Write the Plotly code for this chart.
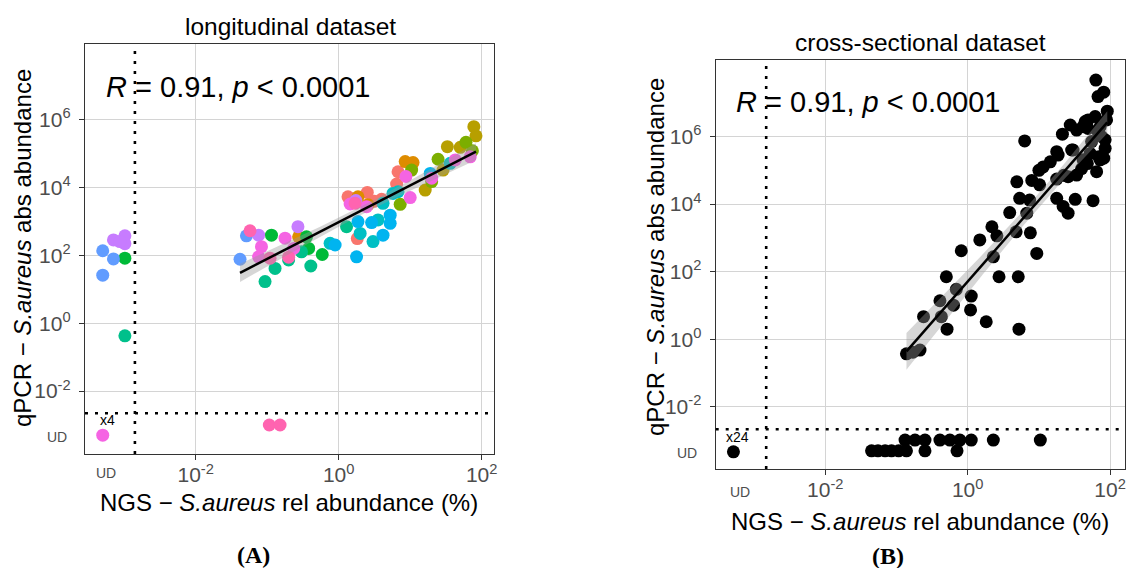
import numpy as np
import plotly.graph_objects as go

W, H = 1126, 568

# ---------------- data (log10 units) ----------------
UD = -3.30  # plotting position used for "undetected"

# Panel A: longitudinal dataset  (x = log10 NGS rel. abundance %, y = log10 qPCR abs abundance)
A_x = [0.13, 0.40, 0.60, 0.81, 0.83, 0.26, 0.50,
       0.27, 0.41, 0.93, 1.04, -0.56,
       1.21, 1.46, 1.52, 1.70, 1.89, 1.92,
       0.86, 1.02, 1.30, 1.39, 1.78, 1.87,
       -2.99, -0.94, -0.45, -0.42, -0.23,
       -2.99, -1.03, -0.89, -0.70, -0.52, -0.39, 0.11,
       -0.12, 0.30, 0.48, 0.55, 0.62, 0.76, 0.83, 1.56,
       -0.05, 0.25, 0.27, 0.46, 0.62, 0.72, 0.72, 1.28,
       -3.30, -3.15, -3.30, -1.38, -1.29,
       -3.15, -2.99, -2.99, -3.06, -1.12, -0.57, 0.24,
       -3.30, -1.08, -1.12, -0.75, -0.63, 0.16, 0.39, 0.94, 1.00, 1.30, 1.63, 1.84,
       -1.24, -0.96, -0.70, 0.23, -0.97, -0.82]
A_y = [3.73, 3.86, 3.66, 4.11, 4.47, 2.50, 3.60,
       3.73, 3.50, 4.77, 4.74, 2.55,
       3.93, 4.52, 5.21, 5.19, 5.80, 5.53,
       3.51, 4.52, 4.18, 4.84, 5.34, 5.09,
       1.92, 2.60, 2.55, 2.21, 2.03,
       -0.37, 1.23, 1.62, 1.87, 2.11, 1.69, 2.85,
       2.36, 2.65, 2.41, 3.05, 3.54, 3.83, 3.88, 4.72,
       2.31, 1.96, 3.00, 2.97, 2.60, 3.19, 2.95, 4.42,
       2.14, 1.90, 1.42, 1.89, 2.58,
       2.46, 2.58, 2.35, 2.41, 2.60, 2.85, 3.62,
       -3.30, 2.26, 1.96, 2.51, 2.21, 3.52, 3.44, 4.33, 3.71, 4.28, 4.82, 4.91,
       2.73, 1.92, 1.95, 3.54, -3.00, -3.00]
A_group = ([0] * 7 + [1] * 5 + [2] * 6 + [3] * 6 + [4] * 5 + [5] * 7 + [6] * 8 +
           [7] * 8 + [8] * 5 + [9] * 7 + [10] * 12 + [11] * 6)
A_colors = ["#F8766D", "#DE8C00", "#B79F00", "#7CAE00", "#00BA38", "#00C08B",
            "#00BFC4", "#00B4F0", "#619CFF", "#C77CFF", "#F564E3", "#FF64B0"]

# Panel B: cross-sectional dataset
B_x = [1.80, 1.83, 1.91, 1.96, 0.80, 1.44, 1.33, 1.69, 1.79, 1.62, 1.83, 1.93, 1.91, 1.81,
       1.48, 1.74, 1.72, 1.68, 1.60, 1.53, 1.25, 1.16, 1.06, 1.00, 0.69, 0.90, 1.01, 1.25,
       1.35, 0.73, 0.87, 1.25, 1.34, 1.41, 1.51, 1.76, 0.59, 0.83, 0.34, 0.41, 0.17, 0.68,
       0.88, -0.09, 0.36, 0.97, -0.30, 0.44, 0.71, -0.16, -0.39, -0.20, 0.05, 0.04, -0.62,
       -0.37, -0.29, 0.26, 0.72, -0.86, -0.77, -0.67, 1.93, 1.86, 1.95, 1.86, 1.69, 1.84,
       1.62, 1.27, 1.53, 1.65, 1.46, 1.41, 1.88,
       -0.88, -0.74, -0.60, -0.39, -0.25, -0.11, 0.05, 0.36, 1.02,
       -1.35, -1.26, -1.16, -1.07, -0.97, -0.86, -0.60, -0.15,
       -3.29]
B_y = [7.67, 7.18, 7.31, 6.75, 5.87, 6.34, 6.07, 6.49, 6.59, 6.29, 6.14, 5.65, 5.36, 4.96,
       5.60, 5.85, 5.50, 5.20, 5.05, 4.86, 5.55, 5.25, 5.10, 5.00, 4.66, 4.70, 4.57, 4.74,
       4.85, 4.17, 4.12, 4.17, 3.93, 3.73, 4.14, 4.10, 3.75, 3.73, 3.33, 3.06, 2.94, 3.18,
       3.15, 2.62, 2.44, 2.54, 1.85, 1.85, 1.85, 1.48, 1.14, 1.01, 1.28, 0.87, 0.67,
       0.67, 0.30, 0.52, 0.30, -0.43, -0.38, -0.32, 5.90, 6.29, 6.49, 5.31, 6.24, 5.40,
       5.31, 5.45, 6.19, 6.44, 5.60, 4.81, 6.00,
       -2.98, -2.98, -2.98, -2.98, -2.98, -2.98, -2.98, -2.98, -2.98,
       -3.30, -3.30, -3.30, -3.30, -3.30, -3.30, -3.30, -3.30,
       -3.33]

# detection limits (dotted lines), log10 units
A_lod_x, A_lod_y = -2.85, -2.655
B_lod_x, B_lod_y = -2.83, -2.66

stat_text = "<i>R</i> = 0.91, <i>p</i> &lt; 0.0001"
x_ticks = [-2, 0, 2]
y_ticks = [-2, 0, 2, 4, 6]
T_CRIT = 1.99


def px(v):
    return v / W


def py(v):
    return 1 - v / H


def lm_band(x, y, lodx, lody):
    x = np.asarray(x)
    y = np.asarray(y)
    m = (x > lodx) & (y > lody)
    xs, ys = x[m], y[m]
    b, a = np.polyfit(xs, ys, 1)
    n = len(xs)
    res = ys - (a + b * xs)
    s = np.sqrt(np.sum(res ** 2) / (n - 2))
    sxx = np.sum((xs - xs.mean()) ** 2)
    xx = np.linspace(xs.min(), xs.max(), 80)
    yy = a + b * xx
    se = s * np.sqrt(1 / n + (xx - xs.mean()) ** 2 / sxx)
    return xx, yy, yy - T_CRIT * se, yy + T_CRIT * se


fig = go.Figure()

# panel A points
A_x_arr, A_y_arr, A_g_arr = np.array(A_x), np.array(A_y), np.array(A_group)
for g, col in enumerate(A_colors):
    m = A_g_arr == g
    fig.add_trace(go.Scatter(x=A_x_arr[m], y=A_y_arr[m], mode="markers",
                             marker=dict(size=13, color=col), xaxis="x", yaxis="y",
                             showlegend=False, hoverinfo="skip"))

# panel B points
fig.add_trace(go.Scatter(x=B_x, y=B_y, mode="markers", marker=dict(size=13, color="black"),
                         xaxis="x2", yaxis="y2", showlegend=False, hoverinfo="skip"))

# regression lines with confidence bands
for (xd, yd, lx, ly, xa, ya) in [(A_x, A_y, A_lod_x, A_lod_y, "x", "y"),
                                 (B_x, B_y, B_lod_x, B_lod_y, "x2", "y2")]:
    xx, yy, lo, hi = lm_band(xd, yd, lx, ly)
    fig.add_trace(go.Scatter(x=np.concatenate([xx, xx[::-1]]), y=np.concatenate([hi, lo[::-1]]),
                             fill="toself", fillcolor="rgba(153,153,153,0.4)", line=dict(width=0),
                             mode="lines", xaxis=xa, yaxis=ya, showlegend=False, hoverinfo="skip"))
    fig.add_trace(go.Scatter(x=xx, y=yy, mode="lines", line=dict(color="black", width=2.5),
                             xaxis=xa, yaxis=ya, showlegend=False, hoverinfo="skip"))

tick_txt_x = ["10<sup>%d</sup>" % v for v in x_ticks]
tick_txt_y = ["10<sup>%d</sup>" % v for v in y_ticks]

common_axis = dict(showgrid=True, gridcolor="#d4d4d4", gridwidth=1.3, zeroline=False,
                   showline=True, mirror=True, linecolor="#333333", linewidth=1.3,
                   ticks="outside", ticklen=5, tickwidth=1.3, tickcolor="#333333",
                   automargin=False,
                   tickfont=dict(size=21, color="#4d4d4d", family="Liberation Sans, Arial"))

fig.update_layout(
    width=W, height=H, margin=dict(l=0, r=0, t=0, b=0, autoexpand=False),
    paper_bgcolor="white", plot_bgcolor="white",
    font=dict(family="Liberation Sans, Arial", color="black"),
    xaxis=dict(domain=[px(85), px(494)], range=[-3.548, 2.172], tickvals=x_ticks,
               ticktext=tick_txt_x, anchor="y", ticklabelstandoff=-3, **common_axis),
    yaxis=dict(domain=[py(454), py(44)], range=[-3.855, 8.239], tickvals=y_ticks,
               ticktext=tick_txt_y, anchor="x", ticklabelstandoff=4, **common_axis),
    xaxis2=dict(domain=[px(715.7), px(1124.5)], range=[-3.539, 2.202], tickvals=x_ticks,
                ticktext=tick_txt_x, anchor="y2", ticklabelstandoff=-3, **common_axis),
    yaxis2=dict(domain=[py(469), py(60)], range=[-3.837, 8.263], tickvals=y_ticks,
                ticktext=tick_txt_y, anchor="x2", ticklabelstandoff=4, **common_axis),
)

dot = dict(color="black", width=2.6, dash="3px,7px")
shapes = []
for xa, ya, lx, ly in [("x", "y", A_lod_x, A_lod_y), ("x2", "y2", B_lod_x, B_lod_y)]:
    shapes.append(dict(type="line", xref=xa, yref=ya + " domain", x0=lx, x1=lx, y0=0, y1=1,
                       line=dot, layer="above"))
    shapes.append(dict(type="line", xref=xa + " domain", yref=ya, x0=0, x1=1, y0=ly, y1=ly,
                       line=dot, layer="above"))
fig.update_layout(shapes=shapes)

F = "Liberation Sans, Arial"


def note(text, x, y, size, xanchor="center", yanchor="middle", xref="paper", yref="paper",
         color="black", family=F, angle=0):
    if xref == "paper":
        x = px(x)
    if yref == "paper":
        y = py(y)
    return dict(text=text, x=x, y=y, xref=xref, yref=yref, xanchor=xanchor, yanchor=yanchor,
                showarrow=False, textangle=angle, font=dict(size=size, color=color, family=family))


ytitle = "qPCR \u2212 <i>S.aureus</i> abs abundance"
xtitle = "NGS \u2212 <i>S.aureus</i> rel abundance (%)"
ann = [
    note("longitudinal dataset", 290, 27, 24.5),
    note("cross-sectional dataset", 920, 43, 24.5),
    note(stat_text, 104, 87, 29, xanchor="left"),
    note(stat_text, 734, 102, 29, xanchor="left"),
    note(ytitle, 23, 248, 24, angle=-90),
    note(ytitle, 655, 257, 24, angle=-90),
    note(xtitle, 289, 502, 24),
    note(xtitle, 920, 521, 24),
    note("UD", 106, 473, 14, color="#4d4d4d"),
    note("UD", 69, 437, 14, xanchor="right", color="#4d4d4d"),
    note("UD", 740, 492, 14, color="#4d4d4d"),
    note("UD", 699, 453, 14, xanchor="right", color="#4d4d4d"),
    note("x4", -3.23, -2.85, 14, xref="x", yref="y"),
    note("x24", -3.23, -2.88, 14, xref="x2", yref="y2"),
    note("<b>(A)</b>", 253, 555, 24, family="Liberation Serif, Times New Roman"),
    note("<b>(B)</b>", 888, 556, 24, family="Liberation Serif, Times New Roman"),
]
fig.update_layout(annotations=ann)

# remove the default page margin so the figure fills the window exactly
fig.write_html("out.html", config={"displayModeBar": False},
               post_script="document.body.style.margin='0';document.body.style.overflow='hidden';")
